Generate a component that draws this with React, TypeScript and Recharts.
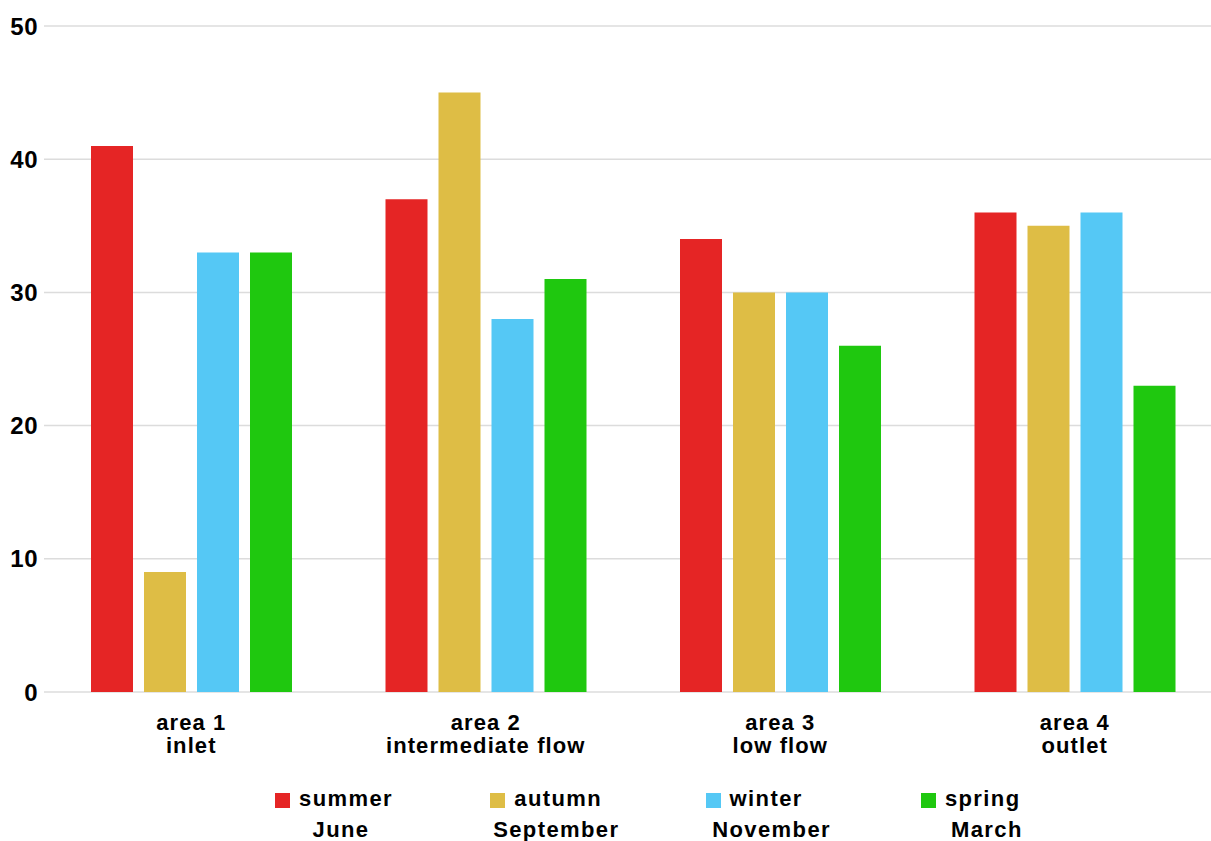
import { BarChart, Bar, XAxis, YAxis, CartesianGrid, Legend } from "recharts";

const AREAS = ["area 1", "area 2", "area 3", "area 4"];
const AREA_NAMES = ["inlet", "intermediate flow", "low flow", "outlet"];

const SUMMER = [41, 37, 34, 36];
const AUTUMN = [9, 45, 30, 35];
const WINTER = [33, 28, 30, 36];
const SPRING = [33, 31, 26, 23];

const Y_TICKS = [0, 10, 20, 30, 40, 50];

const SEASONS = [
  { key: "summer", month: "June", color: "#e52525" },
  { key: "autumn", month: "September", color: "#debd45" },
  { key: "winter", month: "November", color: "#55c8f5" },
  { key: "spring", month: "March", color: "#1fc80f" },
];

const data = AREAS.map((area, i) => ({
  area,
  name: AREA_NAMES[i],
  summer: SUMMER[i],
  autumn: AUTUMN[i],
  winter: WINTER[i],
  spring: SPRING[i],
}));

const FONT = "'Liberation Sans', Arial, sans-serif";

// eslint-disable-next-line @typescript-eslint/no-explicit-any
function AreaTick({ x, y, payload, index }: any) {
  return (
    <text
      x={x}
      y={y}
      textAnchor="middle"
      fontFamily={FONT}
      fontWeight="bold"
      fontSize={22}
      letterSpacing={1.1}
      fill="#000"
    >
      <tspan x={x} dy={38}>
        {payload.value}
      </tspan>
      <tspan x={x} dy={23}>
        {AREA_NAMES[index]}
      </tspan>
    </text>
  );
}

function SeasonLegend() {
  return (
    <div style={{ position: "relative", height: 70, width: 1211, fontFamily: FONT, fontWeight: "bold", fontSize: 22, letterSpacing: 1.4, color: "#000", lineHeight: "22px" }}>
      {SEASONS.map((s, i) => {
        const left = 275 + i * 215.3;
        return (
          <div key={s.key}>
            <span style={{ position: "absolute", left, top: 22, width: 15, height: 15, background: s.color }} />
            <span style={{ position: "absolute", left: left + 24, top: 17, whiteSpace: "nowrap" }}>{s.key}</span>
            <span
              style={{
                position: "absolute",
                left: left + 24 - 60,
                width: 120 + (s.key.length * 14),
                top: 48,
                textAlign: "center",
                whiteSpace: "nowrap",
              }}
            >
              {s.month}
            </span>
          </div>
        );
      })}
    </div>
  );
}

export default function App() {
  return (
    <div style={{ width: 1211, height: 841, overflow: "hidden", position: "relative", background: "#fff" }}>
      <style>{`body{margin:0}`}</style>
      <BarChart width={1222} height={841} data={data} margin={{ top: 26, right: 0, left: 0, bottom: 0 }} barSize={42} barGap={11}>
        <CartesianGrid vertical={false} stroke="#dcdcdc" strokeWidth={1.5} />
        <XAxis dataKey="area" axisLine={false} tickLine={false} tickSize={0} tickMargin={0} height={79} interval={0} tick={<AreaTick />} />
        <YAxis
          domain={[0, 50]}
          ticks={Y_TICKS}
          width={44}
          axisLine={false}
          tickLine={false}
          tickSize={0}
          tickMargin={6}
          tick={{ fontFamily: FONT, fontWeight: "bold", fontSize: 24, fill: "#000", letterSpacing: 0.5 }}
        />
        <Legend verticalAlign="bottom" content={<SeasonLegend />} />
        {SEASONS.map((s) => (
          <Bar key={s.key} dataKey={s.key} fill={s.color} isAnimationActive={false} />
        ))}
      </BarChart>
    </div>
  );
}
